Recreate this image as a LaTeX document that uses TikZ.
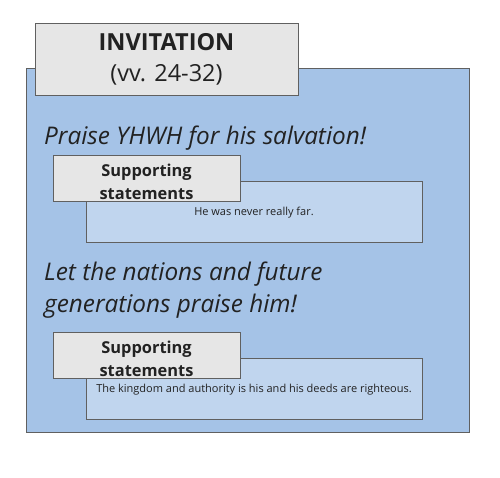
\documentclass[tikz,border=0pt]{standalone}
\usepackage{fontspec}
\setmainfont{Open Sans}
\usepackage{tikz}

\definecolor{outerblue}{HTML}{A5C3E7}
\definecolor{innerblue}{HTML}{C0D5EE}
\definecolor{labelgray}{HTML}{E6E6E6}
\definecolor{edgegray}{HTML}{606060}
\definecolor{textgray}{HTML}{222222}

% two-line label of the grey tabs, pushed down a little
\newcommand{\supportlabel}{\rule{0pt}{20pt}Supporting\\ statements}

\tikzset{
    outerbox/.style={draw=edgegray, fill=outerblue, line width=1pt},
    titlebox/.style={draw=edgegray, fill=labelgray, line width=0.8pt, align=center, text=textgray, inner sep=0pt, font=\fontsize{23.5}{31}\selectfont},
    supportbox/.style={draw=edgegray, fill=labelgray, line width=0.8pt, minimum width=187pt, minimum height=46pt, align=center, text=textgray, inner sep=0pt, font=\fontsize{16.4}{22.5}\selectfont\bfseries},
    statebox/.style={draw=edgegray, fill=innerblue, line width=0.8pt, minimum width=336pt, minimum height=61pt, text=textgray, inner sep=0pt, text depth=-4pt, font=\fontsize{11}{13}\selectfont},
    heading/.style={anchor=west, inner sep=0pt, align=left, text=textgray, font=\fontsize{24.3}{32.5}\selectfont\itshape},
}

\begin{document}
\begin{tikzpicture}[x=1pt, y=-1pt]
    \useasboundingbox (0, 0) rectangle (500, 477);

    \node[outerbox, minimum width=443pt, minimum height=364pt] (invitation) at (247.5, 250) {};
    \node[titlebox, minimum width=263pt, minimum height=72pt] (title) at (166.5, 59)
        {\textbf{INVITATION}\\ (vv. 24-32)};

    % first call to praise
    \node[heading] (praise) at (44, 138.5) {Praise YHWH for his salvation!};
    \node[statebox] (far) at (254, 211.5) {He was never really far.};
    \node[supportbox] (support1) at (146.5, 178) {\supportlabel};

    % second call to praise
    \node[heading] (nations) at (44, 290) {Let the nations and future\\ generations praise him!};
    \node[statebox] (kingdom) at (254, 388.5)
        {The kingdom and authority is his and his deeds are righteous.};
    \node[supportbox] (support2) at (146.5, 355) {\supportlabel};
\end{tikzpicture}
\end{document}
